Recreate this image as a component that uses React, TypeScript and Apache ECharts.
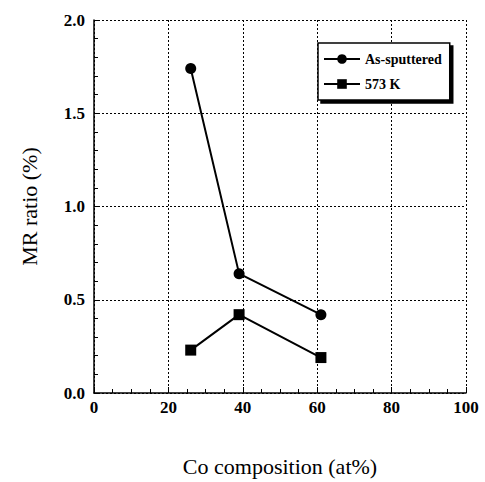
import React, { useEffect, useRef } from "react";
import * as echarts from "echarts";

const compositions = [26, 39, 61];
const asSputtered = [1.74, 0.64, 0.42];
const annealed573 = [0.23, 0.42, 0.19];
const seriesNames = ["As-sputtered", "573 K"];
const xTitle = "Co composition (at%)";
const yTitle = "MR ratio (%)";

const serif = "serif";

export default function App() {
  const ref = useRef<HTMLDivElement>(null);
  useEffect(() => {
    if (!ref.current) return;
    const chart = echarts.init(ref.current, null, { renderer: "svg" });
    const toPairs = (ys: number[]) => compositions.map((x, i) => [x, ys[i]]);
    chart.setOption({
      animation: false,
      backgroundColor: "#fff",
      textStyle: { fontFamily: serif },
      grid: { left: 94, right: 19, top: 20, bottom: 87, containLabel: false },
      legend: {
        orient: "vertical",
        left: 318,
        top: 43,
        padding: [9, 8, 9, 5],
        itemGap: 11,
        itemWidth: 36,
        itemHeight: 12,
        backgroundColor: "#fff",
        borderColor: "#000",
        borderWidth: 1.5,
        shadowColor: "#000",
        shadowBlur: 0,
        shadowOffsetX: 3,
        shadowOffsetY: 3,
        textStyle: { fontFamily: serif, fontWeight: "bold", fontSize: 14, color: "#000", width: 84 },
        data: seriesNames,
      },
      xAxis: {
        type: "value",
        min: 0,
        max: 100,
        interval: 20,
        name: xTitle,
        nameLocation: "middle",
        nameGap: 62,
        nameTextStyle: { fontFamily: serif, fontSize: 22, color: "#000" },
        axisLine: { lineStyle: { color: "#000", width: 1.5 } },
        axisTick: { inside: true, length: 6, lineStyle: { color: "#000" } },
        minorTick: { show: true, splitNumber: 4, length: 4, lineStyle: { color: "#000" } },
        axisLabel: { fontFamily: serif, fontWeight: "bold", fontSize: 17, color: "#000", margin: 6 },
        splitLine: { show: true, lineStyle: { color: "#000", type: [2, 2], width: 1 } },
      },
      yAxis: {
        type: "value",
        min: 0,
        max: 2,
        interval: 0.5,
        name: yTitle,
        nameLocation: "middle",
        nameGap: 54,
        nameTextStyle: { fontFamily: serif, fontSize: 22, color: "#000" },
        axisLine: { show: true, lineStyle: { color: "#000", width: 1.5 } },
        axisTick: { show: true, inside: true, length: 6, lineStyle: { color: "#000" } },
        minorTick: { show: true, splitNumber: 5, length: 4, lineStyle: { color: "#000" } },
        axisLabel: {
          fontFamily: serif,
          fontWeight: "bold",
          fontSize: 17,
          color: "#000",
          margin: 9,
          formatter: (v: number) => v.toFixed(1),
        },
        splitLine: { show: true, lineStyle: { color: "#000", type: [2, 2], width: 1 } },
      },
      series: [
        {
          name: seriesNames[0],
          type: "line",
          data: toPairs(asSputtered),
          symbol: "circle",
          symbolSize: 11,
          itemStyle: { color: "#000" },
          lineStyle: { color: "#000", width: 2 },
        },
        {
          name: seriesNames[1],
          type: "line",
          data: toPairs(annealed573),
          symbol: "rect",
          symbolSize: 11,
          itemStyle: { color: "#000" },
          lineStyle: { color: "#000", width: 2 },
        },
      ],
    });
    return () => chart.dispose();
  }, []);
  return <div ref={ref} style={{ width: 485, height: 482, position: "absolute", left: 0, top: 0 }} />;
}
